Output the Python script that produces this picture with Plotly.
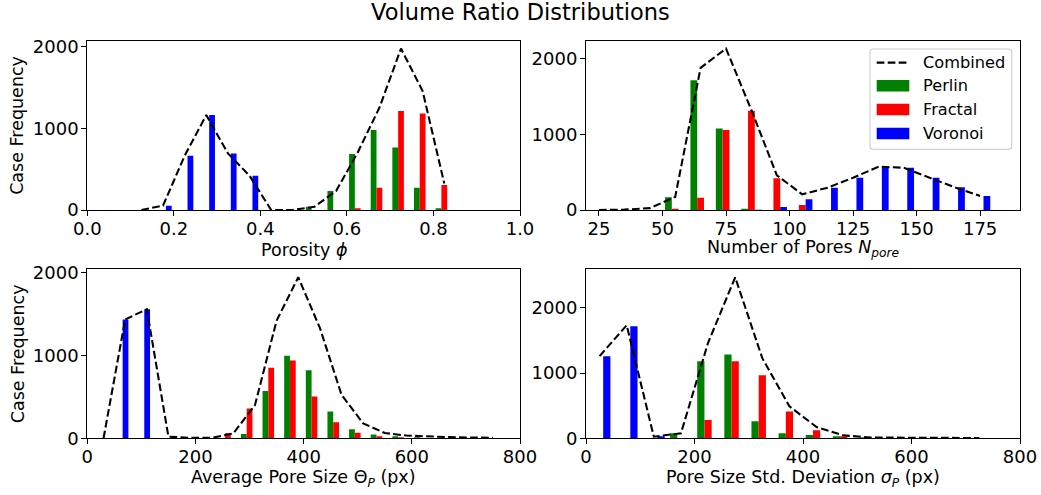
import plotly.graph_objects as go
from plotly.subplots import make_subplots

W, H = 1041, 495

# ---------------- data ----------------
series_names = ["Perlin", "Fractal", "Voronoi"]
series_colors = ["#008000", "#ff0000", "#0000ff"]

# Porosity (top-left)
porosity_bw = 0.05
porosity_bin_left = [0.15, 0.20, 0.25, 0.30, 0.35, 0.40, 0.45, 0.50, 0.55, 0.60, 0.65, 0.70, 0.75, 0.80]
porosity_perlin = [0, 0, 0, 0, 0, 0, 0, 40, 233, 686, 980, 767, 273, 20]
porosity_fractal = [0, 0, 0, 0, 0, 0, 0, 0, 0, 20, 273, 1212, 1184, 306]
porosity_voronoi = [53, 665, 1163, 694, 420, 0, 0, 0, 0, 0, 0, 0, 0, 0]
porosity_combined_x = [0.125, 0.175, 0.225, 0.275, 0.325, 0.375, 0.425, 0.475, 0.525, 0.575, 0.625, 0.675, 0.725, 0.775, 0.825]
porosity_combined = [0, 53, 665, 1163, 694, 420, 0, 0, 40, 233, 706, 1253, 1979, 1457, 326]
porosity_ticks = [0.0, 0.2, 0.4, 0.6, 0.8, 1.0]
porosity_ticklabels = ["0.0", "0.2", "0.4", "0.6", "0.8", "1.0"]

# Number of pores (top-right)
npore_bw = 10
npore_bin_left = [20, 30, 40, 50, 60, 70, 80, 90, 100, 110, 120, 130, 140, 150, 160, 170]
npore_perlin = [0, 0, 0, 167, 1714, 1077, 5, 0, 0, 0, 0, 0, 0, 0, 0, 0]
npore_fractal = [0, 0, 0, 5, 163, 1055, 1310, 418, 66, 0, 0, 0, 0, 0, 0, 0]
npore_voronoi = [0, 0, 0, 0, 0, 0, 3, 40, 141, 295, 426, 571, 558, 426, 299, 185]
npore_combined_x = [25, 35, 45, 55, 65, 75, 85, 95, 105, 115, 125, 135, 145, 155, 165, 175]
npore_combined = [0, 5, 25, 172, 1877, 2132, 1318, 458, 207, 295, 426, 571, 558, 426, 299, 185]
npore_ticks = [25, 50, 75, 100, 125, 150, 175]
npore_ticklabels = ["25", "50", "75", "100", "125", "150", "175"]

# Average pore size (bottom-left)
avgsize_bw = 40
avgsize_bin_left = [40, 80, 120, 160, 200, 240, 280, 320, 360, 400, 440, 480, 520, 560, 600]
avgsize_perlin = [0, 0, 0, 0, 0, 0, 52, 570, 996, 820, 325, 108, 46, 24, 12]
avgsize_fractal = [0, 0, 0, 0, 0, 60, 361, 851, 940, 505, 193, 66, 14, 5, 0]
avgsize_voronoi = [1434, 1558, 0, 0, 0, 0, 0, 0, 0, 0, 0, 0, 0, 0, 0]
avgsize_combined_x = [30, 70, 110, 150, 190, 230, 270, 310, 350, 390, 430, 470, 510, 550, 590, 630, 670, 710, 750]
avgsize_combined = [0, 1434, 1558, 20, 5, 5, 60, 400, 1421, 1944, 1333, 526, 180, 64, 33, 20, 14, 9, 6]
size_ticks = [0, 200, 400, 600, 800]
size_ticklabels = ["0", "200", "400", "600", "800"]

# Pore size std deviation (bottom-right)
stdsize_bw = 50
stdsize_bin_left = [0, 50, 100, 150, 200, 250, 300, 350, 400, 450, 500]
stdsize_perlin = [0, 0, 0, 77, 1184, 1286, 260, 77, 51, 25, 10]
stdsize_fractal = [0, 0, 0, 0, 281, 1184, 969, 413, 122, 20, 0]
stdsize_voronoi = [1260, 1719, 25, 0, 0, 0, 0, 0, 0, 0, 0]
stdsize_combined_x = [25, 75, 125, 175, 225, 275, 325, 375, 425, 475, 525, 575, 625, 675, 725]
stdsize_combined = [1260, 1735, 25, 77, 1465, 2470, 1229, 490, 173, 45, 12, 8, 5, 4, 4]

freq_ticks = [0, 1000, 2000]
freq_ticklabels = ["0", "1000", "2000"]

title_text = "Volume Ratio Distributions"
ylabel_text = "Case Frequency"
legend_labels = ["Combined", "Perlin", "Fractal", "Voronoi"]

panels = [
    dict(row=1, col=1, bw=porosity_bw, left=porosity_bin_left,
         vals=[porosity_perlin, porosity_fractal, porosity_voronoi],
         cx=porosity_combined_x, cy=porosity_combined,
         xrange=[0, 1], yrange=[0, 2075], xt=porosity_ticks, xtl=porosity_ticklabels,
         xlabel="Porosity <i>ϕ</i>", label_dy=40),
    dict(row=1, col=2, bw=npore_bw, left=npore_bin_left,
         vals=[npore_perlin, npore_fractal, npore_voronoi],
         cx=npore_combined_x, cy=npore_combined,
         xrange=[19.9, 190.7], yrange=[0, 2236], xt=npore_ticks, xtl=npore_ticklabels,
         xlabel="Number of Pores <i>N</i><sub><i>pore</i></sub>", label_dy=38),
    dict(row=2, col=1, bw=avgsize_bw, left=avgsize_bin_left,
         vals=[avgsize_perlin, avgsize_fractal, avgsize_voronoi],
         cx=avgsize_combined_x, cy=avgsize_combined,
         xrange=[0, 800], yrange=[0, 2040], xt=size_ticks, xtl=size_ticklabels,
         xlabel="Average Pore Size Θ<sub><i>P</i></sub> (px)", label_dy=40),
    dict(row=2, col=2, bw=stdsize_bw, left=stdsize_bin_left,
         vals=[stdsize_perlin, stdsize_fractal, stdsize_voronoi],
         cx=stdsize_combined_x, cy=stdsize_combined,
         xrange=[0, 800], yrange=[0, 2593], xt=size_ticks, xtl=size_ticklabels,
         xlabel="Pore Size Std. Deviation <i>σ</i><sub><i>P</i></sub> (px)", label_dy=40),
]

# ---------------- layout geometry (pixels) ----------------
col_px = {1: (87.3, 520.0), 2: (586.0, 1020.0)}
row_px = {1: (40.7, 210.0), 2: (269.3, 438.3)}


def PX(x):
    return x / W


def PY(y):
    return 1 - y / H


FONT = "DejaVu Sans"
LFS = 17.5   # axis labels
TFS = 18     # tick labels
GFS = 16.2   # legend
DASH = "7.7px,3.3px"
LW = 2.08

fig = make_subplots(rows=2, cols=2)

for p in panels:
    r, c = p["row"], p["col"]
    bw = p["bw"]
    w = 0.8 * bw / 3
    for i, (name, color, vals) in enumerate(zip(series_names, series_colors, p["vals"])):
        fig.add_trace(go.Bar(x=p["left"], y=vals, width=w, offset=0.1 * bw + i * w,
                             marker=dict(color=color, line=dict(width=0)),
                             name=name, showlegend=False), row=r, col=c)
    fig.add_trace(go.Scatter(x=p["cx"], y=p["cy"], mode="lines",
                             line=dict(color="black", width=LW, dash=DASH),
                             name="Combined", showlegend=False), row=r, col=c)
    x0, x1 = col_px[c]
    y0, y1 = row_px[r]
    fig.update_xaxes(row=r, col=c, domain=[PX(x0), PX(x1)], range=p["xrange"],
                     tickvals=p["xt"], ticktext=p["xtl"])
    fig.update_yaxes(row=r, col=c, domain=[PY(y1), PY(y0)], range=p["yrange"],
                     tickvals=freq_ticks, ticktext=freq_ticklabels)
    # x label
    fig.add_annotation(text=p["xlabel"], xref="paper", yref="paper",
                       x=PX((x0 + x1) / 2), y=PY(y1 + p["label_dy"]), xanchor="center", yanchor="middle",
                       showarrow=False, borderpad=0,
                       font=dict(family=FONT, size=LFS, color="black"))
    if c == 1:
        fig.add_annotation(text=ylabel_text, xref="paper", yref="paper",
                           x=PX(17.5), y=PY((y0 + y1) / 2), xanchor="center", yanchor="middle",
                           textangle=-90, showarrow=False, borderpad=0,
                           font=dict(family=FONT, size=LFS, color="black"))

axis_style = dict(showline=True, mirror=True, linecolor="black", linewidth=1.1,
                  ticks="outside", ticklen=5, tickwidth=1.1, tickcolor="black",
                  showgrid=False, zeroline=False, automargin=False,
                  tickfont=dict(family=FONT, size=TFS, color="black"))
fig.update_xaxes(**axis_style, ticklabelstandoff=-3)
fig.update_yaxes(**axis_style, ticklabelstandoff=-1)

# title
fig.add_annotation(text=title_text, xref="paper", yref="paper", x=PX(520.5), y=PY(11.5),
                   xanchor="center", yanchor="middle", showarrow=False, borderpad=0,
                   font=dict(family=FONT, size=22.5, color="black"))

# ---------------- manual legend (top-right panel) ----------------
shapes = []
lx0, ly0, lx1, ly1, rad = 870.0, 49.0, 1011.7, 149.3, 3.0


def P(x, y):
    return f"{PX(x):.6f},{PY(y):.6f}"


path = (f"M{P(lx0 + rad, ly0)} L{P(lx1 - rad, ly0)} Q{P(lx1, ly0)} {P(lx1, ly0 + rad)} "
        f"L{P(lx1, ly1 - rad)} Q{P(lx1, ly1)} {P(lx1 - rad, ly1)} "
        f"L{P(lx0 + rad, ly1)} Q{P(lx0, ly1)} {P(lx0, ly1 - rad)} "
        f"L{P(lx0, ly0 + rad)} Q{P(lx0, ly0)} {P(lx0 + rad, ly0)} Z")
shapes.append(dict(type="path", xref="paper", yref="paper", path=path,
                   fillcolor="rgba(255,255,255,0.8)", line=dict(color="#cccccc", width=1.1)))
sx0, sx1 = 876.7, 909.3
row_y = [62.6, 85.7, 109.5, 133.5]
shapes.append(dict(type="line", xref="paper", yref="paper",
                   x0=PX(sx0), x1=PX(sx1), y0=PY(row_y[0]), y1=PY(row_y[0]),
                   line=dict(color="black", width=LW, dash=DASH)))
for ry, col in zip(row_y[1:], series_colors):
    shapes.append(dict(type="rect", xref="paper", yref="paper",
                       x0=PX(sx0), x1=PX(sx1), y0=PY(ry + 5.8), y1=PY(ry - 5.8),
                       fillcolor=col, line=dict(width=0)))
for ry, lab in zip(row_y, legend_labels):
    fig.add_annotation(text=lab, xref="paper", yref="paper", x=PX(921.5), y=PY(ry),
                       xanchor="left", yanchor="middle", showarrow=False, borderpad=0,
                       font=dict(family=FONT, size=GFS, color="black"))

fig.update_layout(width=W, height=H, margin=dict(l=0, r=0, t=0, b=0),
                  paper_bgcolor="white", plot_bgcolor="white",
                  barmode="overlay", showlegend=False, shapes=shapes,
                  font=dict(family=FONT, size=LFS, color="black"))

fig.write_html("out.html")
